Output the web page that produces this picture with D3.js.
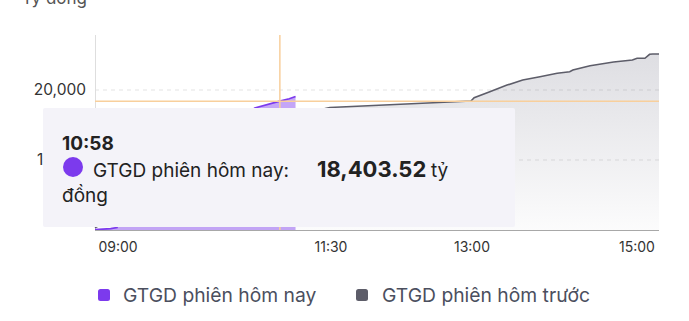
<!DOCTYPE html>
<html><head><meta charset="utf-8">
<script src="https://cdn.jsdelivr.net/npm/d3@7"></script>
<style>
html,body{margin:0;padding:0;background:#fff;}
svg{display:block;font-family:Inter, "Noto Sans", sans-serif;}
</style></head>
<body><svg id="c" width="689" height="321"></svg>
<script>
// ---- data ----
const seriesNames = ["GTGD phiên hôm nay", "GTGD phiên hôm trước"];
const todayTimes  = ["09:00","09:05","09:10","09:14","09:15","09:20","09:30","09:40","09:50","10:00","10:10","10:20","10:30","10:42","10:58","11:04","11:08"];
const todayValues = [50,120,200,350,2100,3600,5600,7400,9000,10600,12100,13600,15300,17430,18403.52,18750,19070];
const prevTimes  = ["09:00","09:15","09:30","09:45","10:00","10:15","10:30","10:45","11:00","11:15","11:27","11:30","13:00","13:02","13:12","13:23","13:33","13:44","13:55","14:03","14:05","14:16","14:31","14:43","14:46","14:51","14:54","14:56","15:00"];
const prevValues = [300,2200,4600,6600,8500,10200,11800,13300,14800,16300,17350,17500,18430,18900,19760,20700,21430,21900,22390,22610,22860,23470,24000,24290,24530,24530,25100,25150,25150];
const yTicks = [10000, 20000];
const xTickLabels = ["09:00","11:30","13:00","15:00"];
const tooltipTime = "10:58";
const tooltipValue = 18403.52;
const yTitle = "Tỷ đồng";
const colors = ["#7c3aed", "#5d5d69"];

// ---- helpers ----
const toMin = s => { const [h,m] = s.split(":").map(Number); return (h-9)*60+m; };
const today = todayTimes.map((t,i)=>({t:toMin(t), v:todayValues[i]}));
const prev  = prevTimes.map((t,i)=>({t:toMin(t), v:prevValues[i]}));

const svg = d3.select("#c");
const L=95, R=659, T=35, B=230;
const x = d3.scaleLinear().domain([0,360]).range([L,R]);
const y = d3.scaleLinear().domain([0,27857]).range([B,T]);

const defs = svg.append("defs");
const g1 = defs.append("linearGradient").attr("id","gprev").attr("x1",0).attr("x2",0).attr("y1",0).attr("y2",1);
g1.append("stop").attr("offset","0%").attr("stop-color","#5a5a70").attr("stop-opacity",0.2);
g1.append("stop").attr("offset","100%").attr("stop-color","#5a5a70").attr("stop-opacity",0.02);

// grid
svg.append("g").selectAll("line").data(yTicks).join("line")
  .attr("x1",L).attr("x2",R).attr("y1",d=>y(d)).attr("y2",d=>y(d))
  .attr("stroke","#e3e3e3").attr("stroke-dasharray","4,4");

svg.append("line").attr("x1",L+0.5).attr("x2",L+0.5).attr("y1",T).attr("y2",B).attr("stroke","#dedede");

const area = d3.area().x(d=>x(d.t)).y0(y(0)).y1(d=>y(d.v));
const line = d3.line().x(d=>x(d.t)).y(d=>y(d.v));
svg.append("path").datum(prev).attr("d",area).attr("fill","url(#gprev)");
svg.append("path").datum(prev).attr("d",line).attr("fill","none").attr("stroke",colors[1]).attr("stroke-width",1.6);
svg.append("path").datum(today).attr("d",area).attr("fill",colors[0]).attr("fill-opacity",0.45);
svg.append("path").datum(today).attr("d",line).attr("fill","none").attr("stroke",colors[0]).attr("stroke-width",1.8);

// crosshair
const hx = x(toMin(tooltipTime)), hy = y(tooltipValue);
svg.append("line").attr("x1",hx).attr("x2",hx).attr("y1",T).attr("y2",B).attr("stroke","#f8cf9c").attr("stroke-width",1.5);
svg.append("line").attr("x1",L).attr("x2",R).attr("y1",hy).attr("y2",hy).attr("stroke","#f8cf9c").attr("stroke-width",1.5);

// x axis
svg.append("line").attr("x1",L).attr("x2",R).attr("y1",B+0.5).attr("y2",B+0.5).attr("stroke","#a8a8a8");
svg.append("g").selectAll("text").data(xTickLabels).join("text")
  .attr("x",(d,i)=> x(toMin(d)) + (i===0?23:(i===xTickLabels.length-1?-22:1)))
  .attr("y",252).attr("text-anchor","middle")
  .attr("font-size",14).attr("fill","#333").text(d=>d);

// y labels
svg.append("g").selectAll("text").data(yTicks).join("text")
  .attr("x",86).attr("y",d=>y(d)+5.5).attr("text-anchor","end")
  .attr("font-size",15.5).attr("fill","#333").text(d=>d3.format(",")(d));
svg.append("text").attr("x",87).attr("y",4).attr("text-anchor","end")
  .attr("font-size",17).attr("fill","#555").text(yTitle);

// tooltip
const tt = svg.append("g");
tt.append("rect").attr("x",43).attr("y",108).attr("width",472).attr("height",119).attr("rx",2)
  .attr("fill","#f4f3f9");
tt.append("text").attr("x",62).attr("y",150).attr("font-size",19).attr("font-weight",700).attr("fill","#222").text(tooltipTime);
tt.append("circle").attr("cx",73).attr("cy",167).attr("r",10).attr("fill",colors[0]);
tt.append("text").attr("x",93).attr("y",177).attr("font-size",19).attr("fill","#222").text(seriesNames[0]+":");
tt.append("text").attr("x",317).attr("y",177).attr("font-size",22).attr("font-weight",700).attr("fill","#222").text(d3.format(",.2f")(tooltipValue));
tt.append("text").attr("x",431).attr("y",177).attr("font-size",19).attr("fill","#222").text("tỷ");
tt.append("text").attr("x",62).attr("y",202).attr("font-size",19).attr("fill","#222").text("đồng");

// legend
const leg = svg.append("g");
const legX = [98, 356], legTX = [123, 382];
seriesNames.forEach((n,i)=>{
  leg.append("rect").attr("x",legX[i]).attr("y",289).attr("width",12).attr("height",12).attr("rx",2.5).attr("fill",colors[i]);
  leg.append("text").attr("x",legTX[i]).attr("y",302).attr("font-size",19.3).attr("fill","#4b4f5e").text(n);
});
</script></body></html>
